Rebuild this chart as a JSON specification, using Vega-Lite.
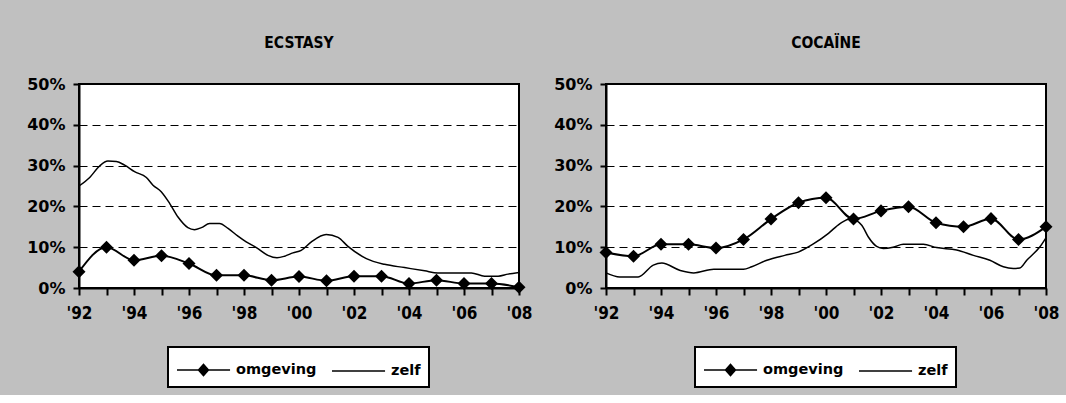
{
  "$schema": "https://vega.github.io/schema/vega-lite/v6.json",
  "background": "#C0C0C0",
  "padding": {"left": 25, "top": 34, "right": 6, "bottom": 6},
  "spacing": 19,
  "datasets": {
    "rows": [
      {"panel": "ECSTASY", "series": "omgeving", "year": 1992, "value": 0.04},
      {"panel": "ECSTASY", "series": "omgeving", "year": 1993, "value": 0.10},
      {"panel": "ECSTASY", "series": "omgeving", "year": 1994, "value": 0.068},
      {"panel": "ECSTASY", "series": "omgeving", "year": 1995, "value": 0.079},
      {"panel": "ECSTASY", "series": "omgeving", "year": 1996, "value": 0.06},
      {"panel": "ECSTASY", "series": "omgeving", "year": 1997, "value": 0.031},
      {"panel": "ECSTASY", "series": "omgeving", "year": 1998, "value": 0.031},
      {"panel": "ECSTASY", "series": "omgeving", "year": 1999, "value": 0.019},
      {"panel": "ECSTASY", "series": "omgeving", "year": 2000, "value": 0.028},
      {"panel": "ECSTASY", "series": "omgeving", "year": 2001, "value": 0.018},
      {"panel": "ECSTASY", "series": "omgeving", "year": 2002, "value": 0.029},
      {"panel": "ECSTASY", "series": "omgeving", "year": 2003, "value": 0.029},
      {"panel": "ECSTASY", "series": "omgeving", "year": 2004, "value": 0.011},
      {"panel": "ECSTASY", "series": "omgeving", "year": 2005, "value": 0.019},
      {"panel": "ECSTASY", "series": "omgeving", "year": 2006, "value": 0.011},
      {"panel": "ECSTASY", "series": "omgeving", "year": 2007, "value": 0.011},
      {"panel": "ECSTASY", "series": "omgeving", "year": 2008, "value": 0.002},
      {"panel": "ECSTASY", "series": "zelf", "year": 1992.0, "value": 0.250},
      {"panel": "ECSTASY", "series": "zelf", "year": 1992.39, "value": 0.271},
      {"panel": "ECSTASY", "series": "zelf", "year": 1992.75, "value": 0.299},
      {"panel": "ECSTASY", "series": "zelf", "year": 1993.05, "value": 0.311},
      {"panel": "ECSTASY", "series": "zelf", "year": 1993.36, "value": 0.310},
      {"panel": "ECSTASY", "series": "zelf", "year": 1993.66, "value": 0.301},
      {"panel": "ECSTASY", "series": "zelf", "year": 1994.02, "value": 0.285},
      {"panel": "ECSTASY", "series": "zelf", "year": 1994.45, "value": 0.271},
      {"panel": "ECSTASY", "series": "zelf", "year": 1994.69, "value": 0.252},
      {"panel": "ECSTASY", "series": "zelf", "year": 1994.99, "value": 0.236},
      {"panel": "ECSTASY", "series": "zelf", "year": 1995.30, "value": 0.207},
      {"panel": "ECSTASY", "series": "zelf", "year": 1995.60, "value": 0.174},
      {"panel": "ECSTASY", "series": "zelf", "year": 1995.96, "value": 0.148},
      {"panel": "ECSTASY", "series": "zelf", "year": 1996.20, "value": 0.143},
      {"panel": "ECSTASY", "series": "zelf", "year": 1996.45, "value": 0.148},
      {"panel": "ECSTASY", "series": "zelf", "year": 1996.75, "value": 0.158},
      {"panel": "ECSTASY", "series": "zelf", "year": 1997.11, "value": 0.158},
      {"panel": "ECSTASY", "series": "zelf", "year": 1997.42, "value": 0.146},
      {"panel": "ECSTASY", "series": "zelf", "year": 1997.78, "value": 0.127},
      {"panel": "ECSTASY", "series": "zelf", "year": 1998.08, "value": 0.113},
      {"panel": "ECSTASY", "series": "zelf", "year": 1998.45, "value": 0.099},
      {"panel": "ECSTASY", "series": "zelf", "year": 1998.87, "value": 0.080},
      {"panel": "ECSTASY", "series": "zelf", "year": 1999.20, "value": 0.074},
      {"panel": "ECSTASY", "series": "zelf", "year": 1999.48, "value": 0.078},
      {"panel": "ECSTASY", "series": "zelf", "year": 1999.78, "value": 0.086},
      {"panel": "ECSTASY", "series": "zelf", "year": 2000.08, "value": 0.092},
      {"panel": "ECSTASY", "series": "zelf", "year": 2000.45, "value": 0.113},
      {"panel": "ECSTASY", "series": "zelf", "year": 2000.99, "value": 0.131},
      {"panel": "ECSTASY", "series": "zelf", "year": 2001.42, "value": 0.124},
      {"panel": "ECSTASY", "series": "zelf", "year": 2001.78, "value": 0.102},
      {"panel": "ECSTASY", "series": "zelf", "year": 2002.45, "value": 0.072},
      {"panel": "ECSTASY", "series": "zelf", "year": 2003.11, "value": 0.058},
      {"panel": "ECSTASY", "series": "zelf", "year": 2003.84, "value": 0.050},
      {"panel": "ECSTASY", "series": "zelf", "year": 2004.57, "value": 0.042},
      {"panel": "ECSTASY", "series": "zelf", "year": 2005.05, "value": 0.037},
      {"panel": "ECSTASY", "series": "zelf", "year": 2006.27, "value": 0.037},
      {"panel": "ECSTASY", "series": "zelf", "year": 2006.75, "value": 0.029},
      {"panel": "ECSTASY", "series": "zelf", "year": 2007.24, "value": 0.029},
      {"panel": "ECSTASY", "series": "zelf", "year": 2007.60, "value": 0.034},
      {"panel": "ECSTASY", "series": "zelf", "year": 2008.0, "value": 0.038},
      {"panel": "COCAÏNE", "series": "omgeving", "year": 1992, "value": 0.087},
      {"panel": "COCAÏNE", "series": "omgeving", "year": 1993, "value": 0.078},
      {"panel": "COCAÏNE", "series": "omgeving", "year": 1994, "value": 0.107},
      {"panel": "COCAÏNE", "series": "omgeving", "year": 1995, "value": 0.107},
      {"panel": "COCAÏNE", "series": "omgeving", "year": 1996, "value": 0.098},
      {"panel": "COCAÏNE", "series": "omgeving", "year": 1997, "value": 0.119},
      {"panel": "COCAÏNE", "series": "omgeving", "year": 1998, "value": 0.169},
      {"panel": "COCAÏNE", "series": "omgeving", "year": 1999, "value": 0.209},
      {"panel": "COCAÏNE", "series": "omgeving", "year": 2000, "value": 0.221},
      {"panel": "COCAÏNE", "series": "omgeving", "year": 2001, "value": 0.169},
      {"panel": "COCAÏNE", "series": "omgeving", "year": 2002, "value": 0.189},
      {"panel": "COCAÏNE", "series": "omgeving", "year": 2003, "value": 0.199},
      {"panel": "COCAÏNE", "series": "omgeving", "year": 2004, "value": 0.160},
      {"panel": "COCAÏNE", "series": "omgeving", "year": 2005, "value": 0.150},
      {"panel": "COCAÏNE", "series": "omgeving", "year": 2006, "value": 0.170},
      {"panel": "COCAÏNE", "series": "omgeving", "year": 2007, "value": 0.119},
      {"panel": "COCAÏNE", "series": "omgeving", "year": 2008, "value": 0.150},
      {"panel": "COCAÏNE", "series": "zelf", "year": 1992.0, "value": 0.037},
      {"panel": "COCAÏNE", "series": "zelf", "year": 1992.50, "value": 0.027},
      {"panel": "COCAÏNE", "series": "zelf", "year": 1993.17, "value": 0.027},
      {"panel": "COCAÏNE", "series": "zelf", "year": 1993.72, "value": 0.056},
      {"panel": "COCAÏNE", "series": "zelf", "year": 1994.03, "value": 0.061},
      {"panel": "COCAÏNE", "series": "zelf", "year": 1994.70, "value": 0.043},
      {"panel": "COCAÏNE", "series": "zelf", "year": 1995.19, "value": 0.037},
      {"panel": "COCAÏNE", "series": "zelf", "year": 1995.92, "value": 0.046},
      {"panel": "COCAÏNE", "series": "zelf", "year": 1997.00, "value": 0.046},
      {"panel": "COCAÏNE", "series": "zelf", "year": 1997.30, "value": 0.052},
      {"panel": "COCAÏNE", "series": "zelf", "year": 1997.85, "value": 0.068},
      {"panel": "COCAÏNE", "series": "zelf", "year": 1998.50, "value": 0.080},
      {"panel": "COCAÏNE", "series": "zelf", "year": 1998.99, "value": 0.088},
      {"panel": "COCAÏNE", "series": "zelf", "year": 1999.54, "value": 0.108},
      {"panel": "COCAÏNE", "series": "zelf", "year": 2000.09, "value": 0.134},
      {"panel": "COCAÏNE", "series": "zelf", "year": 2000.51, "value": 0.158},
      {"panel": "COCAÏNE", "series": "zelf", "year": 2000.90, "value": 0.170},
      {"panel": "COCAÏNE", "series": "zelf", "year": 2001.30, "value": 0.154},
      {"panel": "COCAÏNE", "series": "zelf", "year": 2001.54, "value": 0.125},
      {"panel": "COCAÏNE", "series": "zelf", "year": 2001.84, "value": 0.102},
      {"panel": "COCAÏNE", "series": "zelf", "year": 2002.08, "value": 0.097},
      {"panel": "COCAÏNE", "series": "zelf", "year": 2002.44, "value": 0.100},
      {"panel": "COCAÏNE", "series": "zelf", "year": 2002.81, "value": 0.107},
      {"panel": "COCAÏNE", "series": "zelf", "year": 2003.54, "value": 0.107},
      {"panel": "COCAÏNE", "series": "zelf", "year": 2004.02, "value": 0.099},
      {"panel": "COCAÏNE", "series": "zelf", "year": 2004.75, "value": 0.093},
      {"panel": "COCAÏNE", "series": "zelf", "year": 2005.36, "value": 0.080},
      {"panel": "COCAÏNE", "series": "zelf", "year": 2005.96, "value": 0.068},
      {"panel": "COCAÏNE", "series": "zelf", "year": 2006.45, "value": 0.052},
      {"panel": "COCAÏNE", "series": "zelf", "year": 2006.81, "value": 0.048},
      {"panel": "COCAÏNE", "series": "zelf", "year": 2007.05, "value": 0.049},
      {"panel": "COCAÏNE", "series": "zelf", "year": 2007.30, "value": 0.068},
      {"panel": "COCAÏNE", "series": "zelf", "year": 2007.78, "value": 0.101},
      {"panel": "COCAÏNE", "series": "zelf", "year": 2008.0, "value": 0.123}
    ]
  },
  "resolve": {"legend": {"color": "independent"}},
  "config": {
    "view": {"stroke": "black", "strokeWidth": 2, "fill": "white"},
    "font": "DejaVu Sans",
    "title": {"font": "DejaVu Sans Condensed", "fontSize": 15.5, "fontWeight": "bold", "color": "black", "anchor": "middle", "offset": 25},
    "axis": {"domainColor": "black", "domainWidth": 2, "tickColor": "black", "tickWidth": 2, "labelColor": "black", "labelFontWeight": "bold", "title": null},
    "legend": {
      "orient": "none", "legendX": 89, "legendY": 263, "direction": "horizontal",
      "padding": 8, "strokeColor": "black", "fillColor": "white",
      "symbolSize": 729, "labelOffset": 31, "columnPadding": 12,
      "labelFont": "DejaVu Sans", "labelFontWeight": "bold", "labelFontSize": 14.5, "labelColor": "black"
    }
  },
  "hconcat": [
    {
      "title": "ECSTASY",
      "width": 440, "height": 204,
      "data": {"name": "rows"},
      "transform": [{"filter": "datum.panel === 'ECSTASY'"}],
      "encoding": {
        "x": {"field": "year", "type": "quantitative", "scale": {"domain": [1992, 2008], "nice": false, "zero": false},
          "axis": {"values": [1992,1993,1994,1995,1996,1997,1998,1999,2000,2001,2002,2003,2004,2005,2006,2007,2008],
            "labelExpr": "datum.value % 2 === 0 ? \"'\" + substring(toString(datum.value), 2, 4) : ''",
            "labelFlush": false, "labelOverlap": false, "tickSize": 7, "grid": false,
            "labelFont": "DejaVu Sans Condensed", "labelFontSize": 17, "labelPadding": 10}},
        "y": {"field": "value", "type": "quantitative", "scale": {"domain": [0, 0.5], "nice": false},
          "axis": {"values": [0, 0.1, 0.2, 0.3, 0.4, 0.5], "format": ".0%", "grid": true, "gridDash": [8, 5], "gridColor": "black", "gridWidth": 1,
            "tickSize": 6, "labelFont": "DejaVu Sans", "labelFontSize": 16, "labelPadding": 8}}
      },
      "layer": [
        {"transform": [{"filter": "datum.series === 'zelf'"}],
         "mark": {"type": "line", "interpolate": "monotone", "strokeWidth": 1.5},
         "encoding": {"color": {"field": "series", "type": "nominal", "scale": {"domain": ["omgeving", "zelf"], "range": ["black", "black"]},
           "legend": {"title": null, "encode": {"symbols": {"update": {"shape": {"signal": "datum.value === 'omgeving' ? 'M-1,0L2.93,0M0.59,0L0.963,-0.41L1.33,0L0.963,0.41Z' : 'M-1,0L2.93,0'"}, "fill": {"value": "black"}, "stroke": {"value": "black"}, "strokeWidth": {"value": 1.5}}}, "legend": {"update": {"strokeWidth": {"value": 2}}}}}}}},
        {"transform": [{"filter": "datum.series === 'omgeving'"}],
         "mark": {"type": "line", "interpolate": "monotone", "strokeWidth": 2},
         "encoding": {"color": {"field": "series", "type": "nominal", "scale": {"domain": ["omgeving", "zelf"], "range": ["black", "black"]},
           "legend": {"title": null, "encode": {"symbols": {"update": {"shape": {"signal": "datum.value === 'omgeving' ? 'M-1,0L2.93,0M0.59,0L0.963,-0.41L1.33,0L0.963,0.41Z' : 'M-1,0L2.93,0'"}, "fill": {"value": "black"}, "stroke": {"value": "black"}, "strokeWidth": {"value": 1.5}}}, "legend": {"update": {"strokeWidth": {"value": 2}}}}}}}},
        {"transform": [{"filter": "datum.series === 'omgeving'"}],
         "mark": {"type": "point", "shape": "diamond", "filled": true, "size": 170, "color": "black", "opacity": 1}}
      ]
    },
    {
      "title": "COCAÏNE",
      "width": 440, "height": 204,
      "data": {"name": "rows"},
      "transform": [{"filter": "datum.panel === 'COCAÏNE'"}],
      "encoding": {
        "x": {"field": "year", "type": "quantitative", "scale": {"domain": [1992, 2008], "nice": false, "zero": false},
          "axis": {"values": [1992,1993,1994,1995,1996,1997,1998,1999,2000,2001,2002,2003,2004,2005,2006,2007,2008],
            "labelExpr": "datum.value % 2 === 0 ? \"'\" + substring(toString(datum.value), 2, 4) : ''",
            "labelFlush": false, "labelOverlap": false, "tickSize": 7, "grid": false,
            "labelFont": "DejaVu Sans Condensed", "labelFontSize": 17, "labelPadding": 10}},
        "y": {"field": "value", "type": "quantitative", "scale": {"domain": [0, 0.5], "nice": false},
          "axis": {"values": [0, 0.1, 0.2, 0.3, 0.4, 0.5], "format": ".0%", "grid": true, "gridDash": [8, 5], "gridColor": "black", "gridWidth": 1,
            "tickSize": 6, "labelFont": "DejaVu Sans", "labelFontSize": 16, "labelPadding": 8}}
      },
      "layer": [
        {"transform": [{"filter": "datum.series === 'zelf'"}],
         "mark": {"type": "line", "interpolate": "monotone", "strokeWidth": 1.5},
         "encoding": {"color": {"field": "series", "type": "nominal", "scale": {"domain": ["omgeving", "zelf"], "range": ["black", "black"]},
           "legend": {"title": null, "encode": {"symbols": {"update": {"shape": {"signal": "datum.value === 'omgeving' ? 'M-1,0L2.93,0M0.59,0L0.963,-0.41L1.33,0L0.963,0.41Z' : 'M-1,0L2.93,0'"}, "fill": {"value": "black"}, "stroke": {"value": "black"}, "strokeWidth": {"value": 1.5}}}, "legend": {"update": {"strokeWidth": {"value": 2}}}}}}}},
        {"transform": [{"filter": "datum.series === 'omgeving'"}],
         "mark": {"type": "line", "interpolate": "monotone", "strokeWidth": 2},
         "encoding": {"color": {"field": "series", "type": "nominal", "scale": {"domain": ["omgeving", "zelf"], "range": ["black", "black"]},
           "legend": {"title": null, "encode": {"symbols": {"update": {"shape": {"signal": "datum.value === 'omgeving' ? 'M-1,0L2.93,0M0.59,0L0.963,-0.41L1.33,0L0.963,0.41Z' : 'M-1,0L2.93,0'"}, "fill": {"value": "black"}, "stroke": {"value": "black"}, "strokeWidth": {"value": 1.5}}}, "legend": {"update": {"strokeWidth": {"value": 2}}}}}}}},
        {"transform": [{"filter": "datum.series === 'omgeving'"}],
         "mark": {"type": "point", "shape": "diamond", "filled": true, "size": 170, "color": "black", "opacity": 1}}
      ]
    }
  ]
}
